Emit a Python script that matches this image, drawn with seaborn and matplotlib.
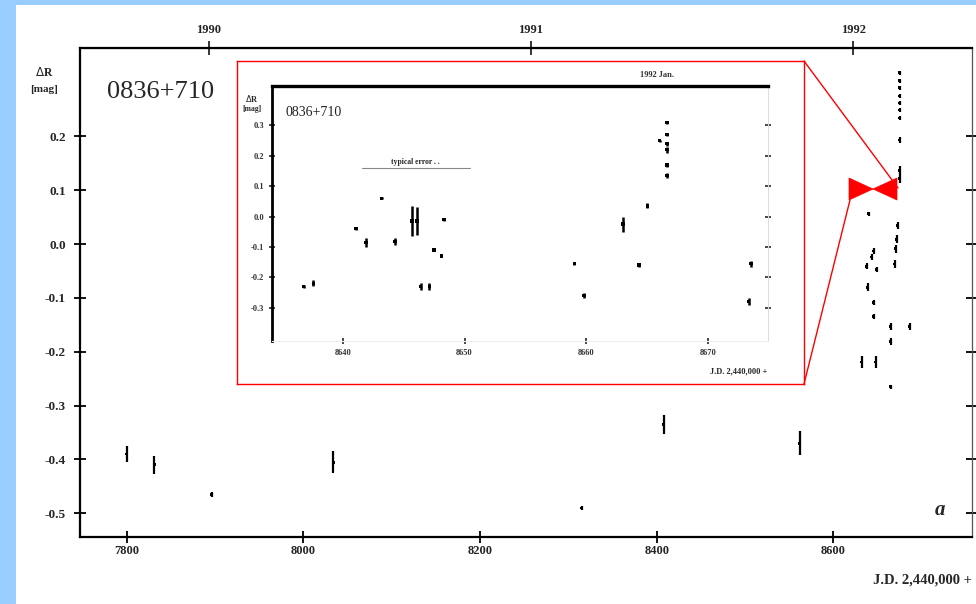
import matplotlib
matplotlib.use("Agg")
import matplotlib.pyplot as plt
import seaborn as sns
import pandas as pd
from matplotlib.patches import Polygon, Rectangle
from matplotlib.lines import Line2D

# ---- main light curve: JD - 2440000, delta R [mag], error ----
jd_main = [7800, 7831, 7896, 8034, 8315, 8408, 8562,
           8632.2, 8637.9, 8639.0, 8640.1, 8643.6, 8645.8, 8645.8, 8645.8,
           8648.1, 8649.2, 8665.1, 8665.1, 8665.1, 8669.6, 8670.7, 8671.9,
           8673.0, 8675.3, 8675.3, 8675.3, 8675.3, 8675.3, 8675.3, 8675.3,
           8675.3, 8675.3, 8675.3, 8686.6]
dr_main = [-0.39, -0.41, -0.465, -0.405, -0.49, -0.335, -0.37,
           -0.219, -0.041, -0.08, 0.056, -0.024, -0.013, -0.108, -0.135,
           -0.219, -0.047, -0.153, -0.181, -0.265, -0.037, -0.009, 0.009,
           0.034, 0.318, 0.303, 0.29, 0.275, 0.262, 0.249, 0.234,
           0.193, 0.136, 0.121, -0.153]
err_main = [0.015, 0.017, 0.004, 0.02, 0.004, 0.018, 0.022,
            0.012, 0.006, 0.008, 0.004, 0.006, 0.005, 0.005, 0.005,
            0.012, 0.005, 0.006, 0.006, 0.004, 0.008, 0.008, 0.008,
            0.006, 0.004, 0.004, 0.004, 0.004, 0.004, 0.004, 0.004,
            0.005, 0.008, 0.008, 0.006]

x_ticks = [7800, 8000, 8200, 8400, 8600]
y_ticks = [0.2, 0.1, 0.0, -0.1, -0.2, -0.3, -0.4, -0.5]
y_labels = ["0.2", "0.1", "0.0", "-0.1", "-0.2", "-0.3", "-0.4", "-0.5"]
year_pos = [7892.5, 8257.5, 8622.5]
year_labels = ["1990", "1991", "1992"]

# ---- inset (zoom on 1992 flare) ----
jd_in = [8636.8, 8637.6, 8641.1, 8641.9, 8643.2, 8644.3, 8645.7, 8646.1,
         8646.4, 8647.1, 8647.5, 8648.1, 8648.3, 8659.0, 8659.8, 8663.0,
         8664.3, 8665.0, 8666.6, 8666.6, 8666.6, 8666.6, 8666.6, 8666.6,
         8666.0, 8673.3, 8673.5]
dr_in = [-0.23, -0.22, -0.04, -0.085, 0.06, -0.083, -0.015, -0.015,
         -0.23, -0.23, -0.11, -0.13, -0.01, -0.155, -0.26, -0.025,
         -0.16, 0.035, 0.31, 0.27, 0.24, 0.22, 0.17, 0.135,
         0.25, -0.28, -0.155]
err_in = [0.006, 0.01, 0.005, 0.015, 0.003, 0.012, 0.05, 0.045,
          0.012, 0.012, 0.004, 0.004, 0.004, 0.005, 0.008, 0.025,
          0.005, 0.008, 0.004, 0.006, 0.006, 0.01, 0.006, 0.008,
          0.003, 0.012, 0.01]
in_x_ticks = [8640, 8650, 8660, 8670]
in_x_labels = ["8640", "8650", "8660", "8670"]
in_y_ticks = [0.3, 0.2, 0.1, 0.0, -0.1, -0.2, -0.3]
in_y_labels = ["0.3", "0.2", "0.1", "0.0", "-0.1", "-0.2", "-0.3"]

df_main = pd.DataFrame({"jd": jd_main, "dr": dr_main, "err": err_main})
df_in = pd.DataFrame({"jd": jd_in, "dr": dr_in, "err": err_in})

sns.set_style("white")
plt.rcParams["font.family"] = ["Liberation Serif", "DejaVu Serif"]

W, H = 976, 604
fig = plt.figure(figsize=(9.76, 6.04), dpi=100, facecolor="#99ccff")


def fx(px):
    return px / W


def fy(py):
    return 1 - py / H


# white paper area
fig.add_artist(Rectangle((fx(16), 0), 1 - fx(16), fy(5), transform=fig.transFigure,
                         facecolor="white", edgecolor="none", zorder=0))

# main axes
ax = fig.add_axes([fx(80), fy(537), fx(972) - fx(80), fy(48) - fy(537)])
ax.set_facecolor("none")
ax.errorbar(df_main["jd"], df_main["dr"], yerr=df_main["err"], fmt="none",
            ecolor="black", elinewidth=1.6, capsize=0)
sns.scatterplot(data=df_main, x="jd", y="dr", ax=ax, color="black", s=4,
                marker="s", edgecolor="none")
ax.set_xlim(7747, 8757)
ax.set_ylim(-0.544, 0.364)
ax.set_xticks(x_ticks)
ax.set_xticklabels([str(t) for t in x_ticks], fontweight="bold", fontsize=9)
ax.set_yticks(y_ticks)
ax.set_yticklabels(y_labels, fontweight="bold", fontsize=9.5)
ax.set_xlabel("")
ax.set_ylabel("")
ax.tick_params(axis="both", direction="inout", length=8, width=1.3, color="black",
               left=True, bottom=True, right=True, pad=6)
ax.tick_params(axis="x", pad=2)
for sp in ax.spines.values():
    sp.set_color("black")
    sp.set_linewidth(1.6)
ax.spines["right"].set_linewidth(0.9)
ax.spines["right"].set_color("#555555")

top = ax.secondary_xaxis("top")
top.set_xticks(year_pos)
top.set_xticklabels(year_labels, fontweight="bold", fontsize=9)
top.tick_params(direction="inout", length=10, width=1.3, top=True)

fig.text(fx(44), fy(73), r"$\Delta$R", ha="center", va="center", fontsize=8.5, fontweight="bold")
fig.text(fx(44), fy(89), "[mag]", ha="center", va="center", fontsize=8, fontweight="bold")
fig.text(fx(107), fy(92), "0836+710", ha="left", va="center", fontsize=19)
fig.text(fx(972), fy(580), "J.D. 2,440,000 +", ha="right", va="center",
         fontsize=10.5, fontweight="bold")
fig.text(fx(940), fy(510), "a", ha="center", va="center", fontsize=15,
         style="italic", fontweight="bold")

# inset frame (red)
box = fig.add_axes([fx(237), fy(384), fx(804) - fx(237), fy(61) - fy(384)])
box.set_xticks([])
box.set_yticks([])
box.set_facecolor("white")
for sp in box.spines.values():
    sp.set_color("red")
    sp.set_linewidth(1.0)

# inset axes
ins = fig.add_axes([fx(272), fy(341), fx(768) - fx(272), fy(86) - fy(341)])
ins.set_facecolor("none")
ins.errorbar(df_in["jd"], df_in["dr"], yerr=df_in["err"], fmt="none",
             ecolor="black", elinewidth=1.8, capsize=0)
sns.scatterplot(data=df_in, x="jd", y="dr", ax=ins, color="black", s=6,
                marker="s", edgecolor="none")
ins.set_xlim(8634.2, 8674.9)
ins.set_ylim(-0.41, 0.43)
ins.set_xticks(in_x_ticks)
ins.set_xticklabels(in_x_labels, fontsize=6, fontweight="bold", color="#333333")
ins.set_yticks(in_y_ticks)
ins.set_yticklabels(in_y_labels, fontsize=6, fontweight="bold", color="#333333")
ins.set_xlabel("")
ins.set_ylabel("")
ins.tick_params(axis="both", direction="inout", length=5, width=1.2, pad=3,
                left=True, bottom=True, right=True)
ins.spines["left"].set_linewidth(2.0)
ins.spines["top"].set_linewidth(2.4)
ins.spines["left"].set_color("black")
ins.spines["top"].set_color("black")
ins.spines["bottom"].set_color("#eeeeee")
ins.spines["right"].set_color("#dddddd")
ins.spines["bottom"].set_linewidth(0.8)
ins.spines["right"].set_linewidth(0.8)

fig.text(fx(252), fy(98), r"$\Delta$R", ha="center", va="center", fontsize=6, fontweight="bold")
fig.text(fx(252), fy(109), "[mag]", ha="center", va="center", fontsize=5.5, fontweight="bold")
fig.text(fx(285), fy(112), "0836+710", ha="left", va="center", fontsize=10, color="#222222")
fig.text(fx(415), fy(162), "typical error . .", ha="center", va="center", fontsize=5.5,
         fontweight="bold")
fig.add_artist(Line2D([fx(362), fx(470)], [fy(168), fy(168)], transform=fig.transFigure,
                      color="#888888", lw=0.8))
fig.text(fx(657), fy(75), "1992 Jan.", ha="center", va="center", fontsize=6,
         fontweight="bold", color="#333333")
fig.text(fx(767), fy(371), "J.D. 2,440,000 +", ha="right", va="center", fontsize=6,
         fontweight="bold")

# connecting lines and bow-tie marker (red)
fig.add_artist(Line2D([fx(804), fx(898)], [fy(61), fy(188)], transform=fig.transFigure,
                      color="red", lw=1.0))
fig.add_artist(Line2D([fx(804), fx(850)], [fy(384), fy(200)], transform=fig.transFigure,
                      color="red", lw=1.0))
bow = [(fx(849), fy(178)), (fx(873), fy(189)), (fx(897), fy(178)),
       (fx(897), fy(200)), (fx(873), fy(189)), (fx(849), fy(200))]
fig.add_artist(Polygon(bow, closed=True, transform=fig.transFigure,
                       facecolor="red", edgecolor="red", lw=0.5))

fig.savefig("out.png", dpi=100, facecolor=fig.get_facecolor())
